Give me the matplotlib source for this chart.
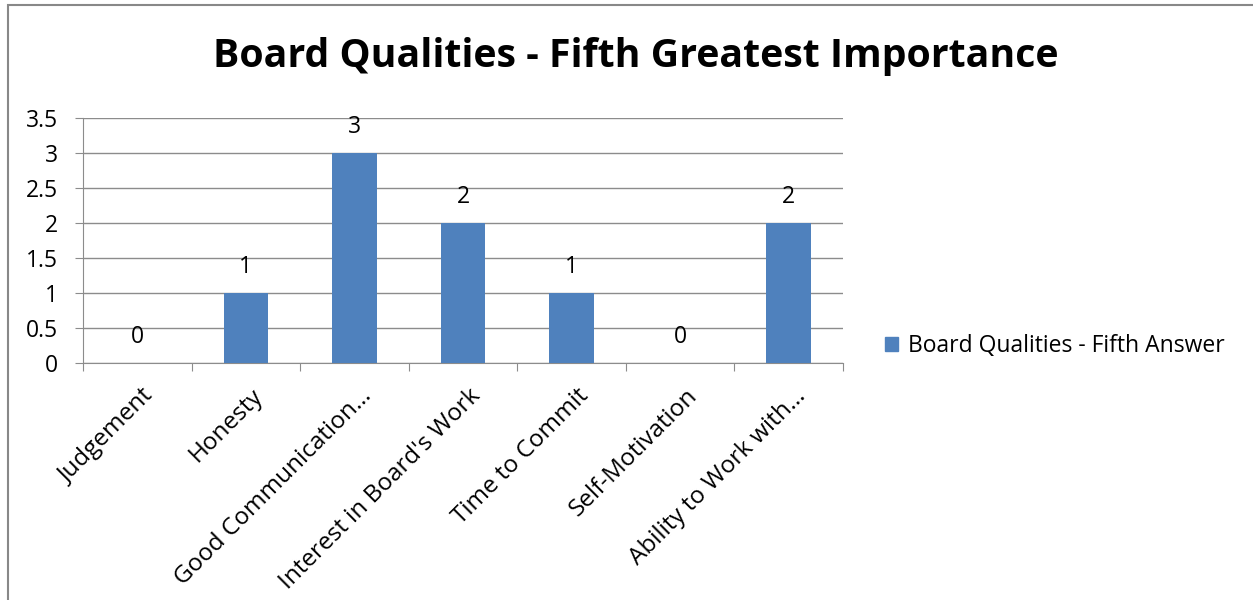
import matplotlib.pyplot as plt
import matplotlib.patches as mpatches
import matplotlib.transforms as mtransforms
import numpy as np

# Daten
categories = ["Judgement", "Honesty", "Good Communication…", "Interest in Board's Work",
              "Time to Commit", "Self-Motivation", "Ability to Work with…"]
values = [0, 1, 3, 2, 1, 0, 2]
yticks = [0, 0.5, 1, 1.5, 2, 2.5, 3, 3.5]
ytick_labels = ["0", "0.5", "1", "1.5", "2", "2.5", "3", "3.5"]
series_name = "Board Qualities - Fifth Answer"
title = "Board Qualities - Fifth Greatest Importance"

bar_color = "#4f81bd"
grid_color = "#8c8c8c"
fs = 17

plt.rcParams["font.family"] = ["Open Sans", "DejaVu Sans"]

W, H = 1253, 600
fig = plt.figure(figsize=(W / 100, H / 100), dpi=100)

# Rahmen um das Diagramm
fig.patches.append(mpatches.Rectangle((8 / W, -0.1), 1.2, 1 - 5 / H + 0.1,
                                      transform=fig.transFigure, fill=False,
                                      edgecolor="#888888", linewidth=1.5))

ax = fig.add_axes([83 / W, 1 - 363 / H, 760 / W, 245 / H])

x = np.arange(len(categories))
ax.bar(x, values, width=0.41, color=bar_color, zorder=3)

for xi, v in zip(x, values):
    ax.annotate(str(v), (xi, v), xytext=(0, 19), textcoords="offset points",
                ha="center", va="center", fontsize=fs - 0.5, color="black")

ax.set_xlim(-0.5, len(categories) - 0.5)
ax.set_ylim(0, 3.5)
ax.set_yticks(yticks)
ax.set_yticklabels(ytick_labels, fontsize=fs - 0.5)
ax.yaxis.grid(True, color=grid_color, linewidth=1, zorder=0)
ax.tick_params(axis="y", length=6, color=grid_color, pad=12)

# Kategorie-Ticks an den Grenzen
ax.set_xticks(np.arange(-0.5, len(categories)), minor=False)
ax.set_xticklabels([])
ax.set_xticks(x, minor=True)
ax.set_xticklabels(categories, minor=True, rotation=45, ha="right",
                   rotation_mode="anchor", fontsize=fs + 0.5)
ax.tick_params(axis="x", which="minor", length=0, pad=13)
ax.tick_params(axis="x", which="major", length=6, color=grid_color)

# Beschriftungen etwas nach rechts schieben
shift = mtransforms.ScaledTranslation(5 / 100, -3 / 100, fig.dpi_scale_trans)
for lbl in ax.get_xticklabels(minor=True):
    lbl.set_transform(lbl.get_transform() + shift)

for side in ["top", "right"]:
    ax.spines[side].set_visible(False)
for side in ["left", "bottom"]:
    ax.spines[side].set_color(grid_color)

fig.text(636 / W, 1 - 57 / H, title, ha="center", va="center",
         fontsize=28.3, fontweight="bold")

handle = mpatches.Patch(color=bar_color, label=series_name)
fig.legend(handles=[handle], loc="center left", bbox_to_anchor=(864 / W, 1 - 346 / H),
           frameon=False, fontsize=16.5, handlelength=0.6, handleheight=0.6,
           handletextpad=0.4)

fig.savefig("out.png", dpi=100)
